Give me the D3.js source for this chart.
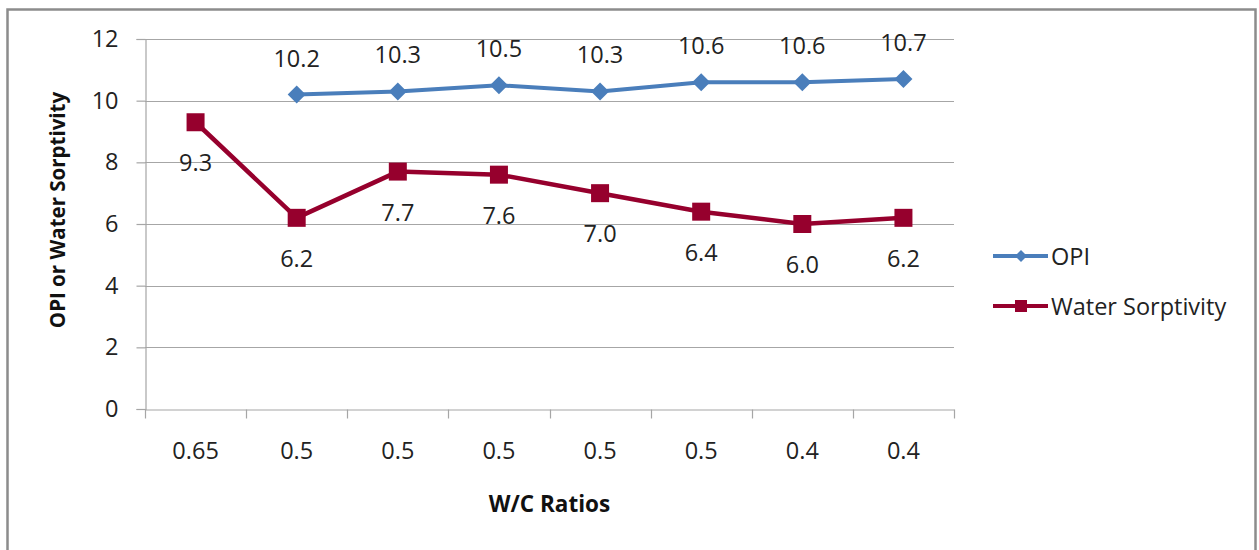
<!DOCTYPE html>
<html>
<head>
<meta charset="utf-8">
<script src="https://cdn.jsdelivr.net/npm/d3@7"></script>
<style>
  html, body { margin: 0; padding: 0; background: #fff; }
  svg { display: block; font-family: "Open Sans", "DejaVu Sans", sans-serif; }
</style>
</head>
<body>
<svg id="chart" width="1259" height="550"></svg>
<script>
// W/C ratio of each mix (x categories)
const categories = ["0.65", "0.5", "0.5", "0.5", "0.5", "0.5", "0.4", "0.4"];
// Oxygen permeability index (no value for the first mix)
const opiValues = [null, 10.2, 10.3, 10.5, 10.3, 10.6, 10.6, 10.7];
// Water sorptivity
const sorptivityValues = [9.3, 6.2, 7.7, 7.6, 7.0, 6.4, 6.0, 6.2];
// Y axis ticks
const yTicks = [0, 2, 4, 6, 8, 10, 12];

const seriesNames = ["OPI", "Water Sorptivity"];
const blue = "#4a7ebb";
const red = "#96002d";
const gridColor = "#a6a6a6";
const textColor = "#222";
const labelSize = 23.5;

const svg = d3.select("#chart");

// chart frame
svg.append("rect")
  .attr("x", 7.5).attr("y", 9.5)
  .attr("width", 1248).attr("height", 560)
  .attr("fill", "#fff")
  .attr("stroke", "#8c8c8c")
  .attr("stroke-width", 2.5);

const plot = { left: 145, right: 954, top: 39, bottom: 409 };

const x = d3.scaleBand()
  .domain(d3.range(categories.length))
  .range([plot.left, plot.right])
  .paddingInner(0).paddingOuter(0);

const y = d3.scaleLinear()
  .domain([0, 12])
  .range([plot.bottom, plot.top]);

const cx = i => x(i) + x.bandwidth() / 2;

// horizontal gridlines
svg.append("g")
  .selectAll("line")
  .data(yTicks.filter(t => t > 0))
  .join("line")
  .attr("x1", plot.left).attr("x2", plot.right)
  .attr("y1", d => Math.round(y(d)) + 0.5)
  .attr("y2", d => Math.round(y(d)) + 0.5)
  .attr("stroke", gridColor)
  .attr("stroke-width", 1.2);

// y axis
const yAxis = svg.append("g")
  .attr("transform", `translate(${plot.left + 0.5},0)`)
  .call(d3.axisLeft(y).tickValues(yTicks).tickSize(9).tickPadding(18));
yAxis.select(".domain").attr("stroke", gridColor).attr("stroke-width", 1.2);
yAxis.selectAll(".tick line").attr("stroke", gridColor).attr("stroke-width", 1.2);
yAxis.selectAll(".tick text")
  .attr("font-size", labelSize)
  .attr("fill", textColor)
  .attr("font-family", "'Open Sans', sans-serif");

// x axis: labels centred in bands, tick marks on band boundaries
const xAxis = svg.append("g")
  .attr("transform", `translate(0,${plot.bottom + 0.5})`)
  .call(d3.axisBottom(x).tickFormat(i => categories[i]).tickSize(0).tickPadding(33));
xAxis.select(".domain").attr("stroke", gridColor).attr("stroke-width", 1.2);
xAxis.selectAll(".tick text")
  .attr("font-size", labelSize)
  .attr("fill", textColor)
  .attr("font-family", "'Open Sans', sans-serif");
xAxis.selectAll("line.boundary")
  .data(d3.range(categories.length + 1))
  .join("line")
  .attr("class", "boundary")
  .attr("x1", i => Math.round(i < categories.length ? x(i) : plot.right) + 0.5)
  .attr("x2", i => Math.round(i < categories.length ? x(i) : plot.right) + 0.5)
  .attr("y1", 0).attr("y2", 9)
  .attr("stroke", gridColor)
  .attr("stroke-width", 1.2);

// axis titles
svg.append("text")
  .attr("x", (plot.left + plot.right) / 2)
  .attr("y", 503)
  .attr("text-anchor", "middle")
  .attr("dominant-baseline", "central")
  .attr("font-size", 22.5)
  .attr("font-weight", "bold")
  .attr("fill", "#111")
  .text("W/C Ratios");

svg.append("text")
  .attr("transform", `translate(57,210) rotate(-90)`)
  .attr("text-anchor", "middle")
  .attr("dominant-baseline", "central")
  .attr("font-size", 20.5)
  .attr("font-weight", "bold")
  .attr("fill", "#111")
  .text("OPI or Water Sorptivity");

// series lines
const line = d3.line()
  .defined(d => d.v !== null)
  .x(d => cx(d.i))
  .y(d => y(d.v));

const opiPts = opiValues.map((v, i) => ({ i, v })).filter(d => d.v !== null);
const sorPts = sorptivityValues.map((v, i) => ({ i, v }));

svg.append("path")
  .datum(opiPts)
  .attr("d", line)
  .attr("fill", "none")
  .attr("stroke", blue)
  .attr("stroke-width", 4)
  .attr("stroke-linejoin", "round");

svg.append("path")
  .datum(sorPts)
  .attr("d", line)
  .attr("fill", "none")
  .attr("stroke", red)
  .attr("stroke-width", 4.5)
  .attr("stroke-linejoin", "round");

// markers
const diamond = s => `M0,${-s}L${s},0L0,${s}L${-s},0Z`;

svg.append("g")
  .selectAll("path")
  .data(opiPts)
  .join("path")
  .attr("transform", d => `translate(${cx(d.i)},${y(d.v)})`)
  .attr("d", diamond(9))
  .attr("fill", blue);

svg.append("g")
  .selectAll("rect")
  .data(sorPts)
  .join("rect")
  .attr("x", d => cx(d.i) - 9)
  .attr("y", d => y(d.v) - 9)
  .attr("width", 18).attr("height", 18)
  .attr("fill", red);

// data labels: OPI above, sorptivity below
svg.append("g")
  .selectAll("text")
  .data(opiPts)
  .join("text")
  .attr("x", d => cx(d.i))
  .attr("y", d => y(d.v) - 37)
  .attr("text-anchor", "middle")
  .attr("dominant-baseline", "central")
  .attr("font-size", labelSize)
  .attr("fill", textColor)
  .text(d => d.v.toFixed(1));

svg.append("g")
  .selectAll("text")
  .data(sorPts)
  .join("text")
  .attr("x", d => cx(d.i))
  .attr("y", d => y(d.v) + 40)
  .attr("text-anchor", "middle")
  .attr("dominant-baseline", "central")
  .attr("font-size", labelSize)
  .attr("fill", textColor)
  .text(d => d.v.toFixed(1));

// legend
const legend = svg.append("g");
const legendItems = [
  { name: seriesNames[0], color: blue, shape: "diamond", y: 256 },
  { name: seriesNames[1], color: red, shape: "square", y: 306 }
];
legendItems.forEach(item => {
  const g = legend.append("g").attr("transform", `translate(993,${item.y})`);
  g.append("line")
    .attr("x1", 0).attr("x2", 55)
    .attr("y1", 0).attr("y2", 0)
    .attr("stroke", item.color)
    .attr("stroke-width", 4);
  if (item.shape === "diamond") {
    g.append("path")
      .attr("transform", "translate(28,0)")
      .attr("d", diamond(6))
      .attr("fill", item.color);
  } else {
    g.append("rect")
      .attr("x", 22).attr("y", -6)
      .attr("width", 12).attr("height", 12)
      .attr("fill", item.color);
  }
  g.append("text")
    .attr("x", 58)
    .attr("y", 0)
    .attr("dominant-baseline", "central")
    .attr("font-size", labelSize)
    .attr("fill", textColor)
    .text(item.name);
});
</script>
</body>
</html>
